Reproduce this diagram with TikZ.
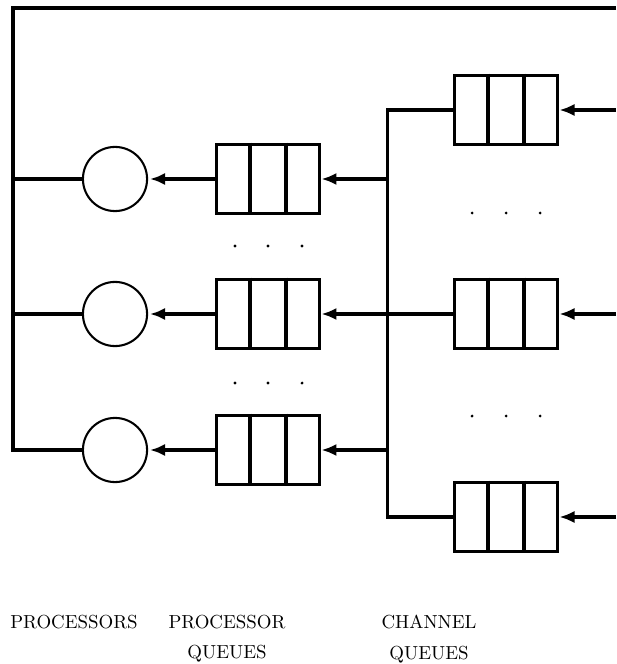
\documentclass[tikz,border=0pt]{standalone}
\usetikzlibrary{arrows.meta,calc}
\begin{document}
\begin{tikzpicture}[
        x=0.53pt, y=-0.53pt,
        linha/.style={line width=1.6pt, black},
        seta/.style={linha, -{Latex[length=8pt, width=6.5pt]}},
        processador/.style={circle, draw, line width=1.1pt, minimum size=34pt, inner sep=0pt},
        fila/.style={rectangle, draw, line width=1.6pt, minimum width=55pt, minimum height=37pt, inner sep=0pt},
        divisor/.style={line width=2.2pt},
        ponto/.style={black},
        rotulo/.style={align=center, inner sep=0pt, anchor=north}
    ]
    \useasboundingbox (0,0) rectangle (616,664);

    % Processadores e filas dos processadores
    \foreach \i/\y in {1/179, 2/314, 3/450} {
        \node[processador] (p\i) at (115,\y) {};
        \node[fila] (pq\i) at (268,\y) {};
        \coordinate (e\i) at (13,\y);
        \coordinate (r\i) at (387,\y);
    }

    % Filas dos canais
    \foreach \i/\y in {1/110, 2/314, 3/517} {
        \node[fila] (cq\i) at (506,\y) {};
        \coordinate (k\i) at (387,\y);
        \coordinate (in\i) at (616,\y);
    }

    % Divisoes das filas
    \foreach \n in {pq1, pq2, pq3, cq1, cq2, cq3}
        \foreach \f in {1, 2}
            \draw[divisor] ($(\n.north west)!\f/3!(\n.north east)$) -- ($(\n.south west)!\f/3!(\n.south east)$);

    % Retorno pela esquerda
    \coordinate (topo) at (13,8);
    \coordinate (topo dir) at (616,8);
    \draw[linha] (topo dir) -- (topo) -- (e3) -- (p3);
    \draw[linha] (e1) -- (p1);
    \draw[linha] (e2) -- (p2);

    % Tronco dos canais
    \draw[linha] (cq1) -- (k1) -- (k3) -- (cq3);
    \draw[linha] (k2) -- (cq2);

    \foreach \i in {1, 2, 3} {
        \draw[seta, shorten >=1pt] (pq\i) -- (p\i);
        \draw[seta] (r\i) -- (pq\i);
        \draw[seta] (in\i) -- (cq\i);
    }

    % Pontos
    \foreach \x in {235, 268, 302}
        \foreach \y in {246, 383}
            \fill[ponto] (\x,\y) circle (0.8pt);
    \foreach \x in {472, 506, 540}
        \foreach \y in {213, 416}
            \fill[ponto] (\x,\y) circle (0.8pt);

    % Rotulos
    \node[rotulo] (lproc) at (74,615) {PROCESSORS};
    \node[rotulo] (lpq) at (227,615) {PROCESSOR\\[4pt]QUEUES};
    \node[rotulo] (lcq) at (429,615) {CHANNEL\\[4pt]QUEUES};

\end{tikzpicture}
\end{document}
